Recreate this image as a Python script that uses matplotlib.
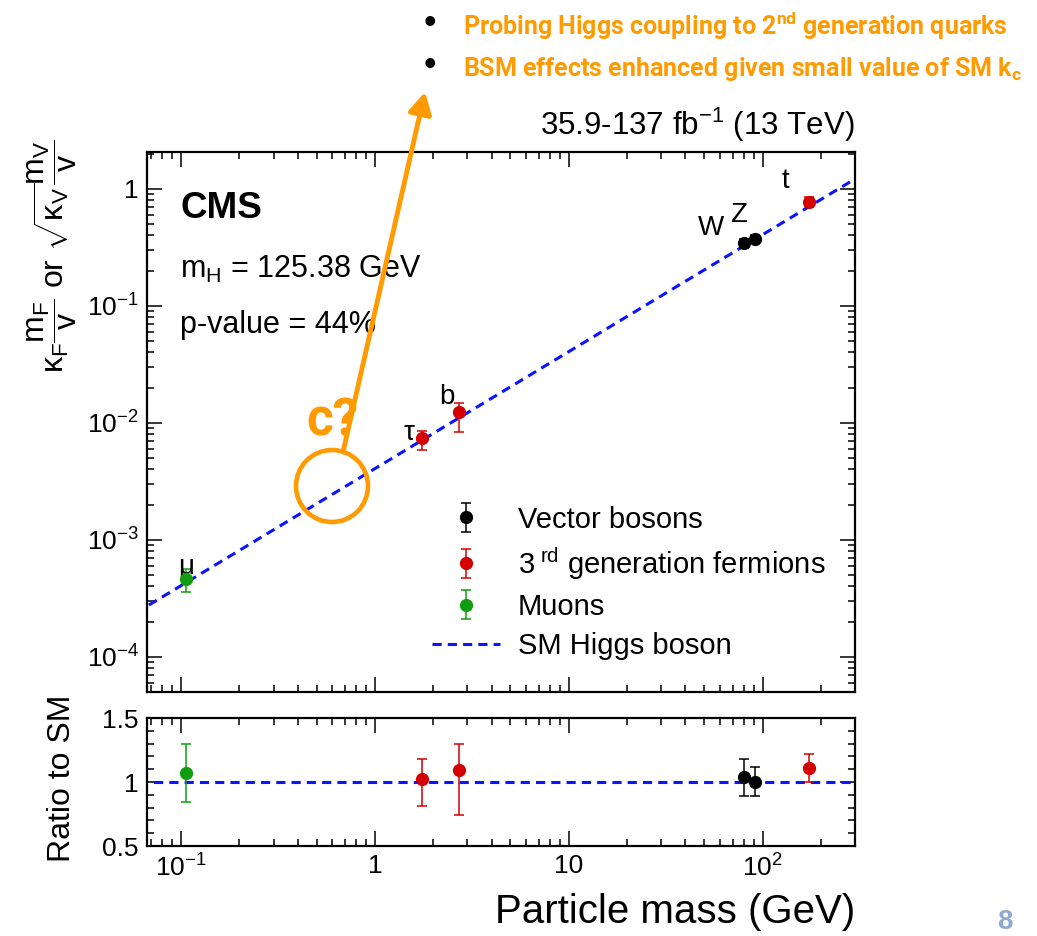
import numpy as np
import matplotlib
matplotlib.use('Agg')
from matplotlib import pyplot as plt
from matplotlib.lines import Line2D
from matplotlib.patches import Ellipse, FancyArrowPatch
from matplotlib.ticker import LogLocator, MultipleLocator, NullFormatter

plt.rcParams['font.family'] = ['Liberation Sans', 'DejaVu Sans']
plt.rcParams['mathtext.fontset'] = 'custom'
plt.rcParams['mathtext.rm'] = 'Liberation Sans'
plt.rcParams['mathtext.it'] = 'Liberation Sans:italic'
plt.rcParams['mathtext.bf'] = 'Liberation Sans:bold'
plt.rcParams['mathtext.default'] = 'regular'

# values
vb_names = ['W', 'Z']
vb_mass = [80.4, 91.2]
vb_y = [0.345, 0.375]
vb_lo = [0.035, 0.03]
vb_hi = [0.03, 0.028]
vb_ratio = [1.04, 1.0]
vb_ratio_lo = [0.15, 0.11]
vb_ratio_hi = [0.14, 0.12]

f3_names = ['τ', 'b', 't']
f3_mass = [1.75, 2.7, 172.7]
f3_y = [7.4e-3, 1.23e-2, 0.78]
f3_lo = [1.5e-3, 3.9e-3, 0.08]
f3_hi = [1.15e-3, 2.4e-3, 0.08]
f3_ratio = [1.02, 1.09, 1.11]
f3_ratio_lo = [0.21, 0.35, 0.11]
f3_ratio_hi = [0.16, 0.21, 0.11]

mu_names = ['μ']
mu_mass = [0.1057]
mu_y = [4.6e-4]
mu_lo = [1.0e-4]
mu_hi = [1.0e-4]
mu_ratio = [1.07]
mu_ratio_lo = [0.23]
mu_ratio_hi = [0.23]

vev = 246.22
sm_x = np.array([0.05, 400.0])
sm_y = sm_x / vev

xticks = [0.1, 1, 10, 100]
xticklabels = ['$10^{-1}$', '1', '10', '$10^{2}$']
yticks = [1e-4, 1e-3, 1e-2, 1e-1, 1]
yticklabels = ['$10^{-4}$', '$10^{-3}$', '$10^{-2}$', '$10^{-1}$', '1']
rticks = [0.5, 1, 1.5]
rticklabels = ['0.5', '1', '1.5']

RED = '#d40000'
GREEN = '#109e10'
BLUE = '#0a14ff'
ORANGE = '#ff9a00'

W, H = 1037, 936
fig = plt.figure(figsize=(W / 100, H / 100), dpi=100)

def fx(px):
    return px / W

def fy(py):
    return 1 - py / H

ax = fig.add_axes([fx(147), fy(692), fx(855) - fx(147), fy(152) - fy(692)])
axr = fig.add_axes([fx(147), fy(846), fx(855) - fx(147), fy(718) - fy(846)], sharex=ax)

groups = [
    (vb_mass, vb_y, vb_lo, vb_hi, vb_ratio, vb_ratio_lo, vb_ratio_hi, 'black', 'Vector bosons'),
    (f3_mass, f3_y, f3_lo, f3_hi, f3_ratio, f3_ratio_lo, f3_ratio_hi, RED, '3$^{\\ rd}$ generation fermions'),
    (mu_mass, mu_y, mu_lo, mu_hi, mu_ratio, mu_ratio_lo, mu_ratio_hi, GREEN, 'Muons'),
]

handles = []
for m, y, lo, hi, r, rlo, rhi, c, lab in groups:
    h = ax.errorbar(m, y, yerr=[lo, hi], fmt='o', color=c, ms=8.5, elinewidth=1.1,
                    capsize=3.5, capthick=1.1, label=lab, zorder=3)
    handles.append(h)
    axr.errorbar(m, r, yerr=[rlo, rhi], fmt='o', color=c, ms=8.5, elinewidth=1.1,
                 capsize=3.5, capthick=1.1, zorder=3)

ax.plot(sm_x, sm_y, ls=(0, (3, 2)), color=BLUE, lw=2.2, zorder=2)
axr.plot(sm_x, [1, 1], ls=(0, (3, 2)), color=BLUE, lw=2.2, zorder=2)
handles.append(Line2D([], [], ls=(0, (3, 2)), color=BLUE, lw=2.2, label='SM Higgs boson'))

# particle labels
label_off = {'W': (-24, 11), 'Z': (-11.5, 17), 't': (-16.5, 14.5),
             'b': (-8.5, 11), 'τ': (-9.5, 3.5), 'μ': (0, 9)}
for names, m, y in [(vb_names, vb_mass, vb_y), (f3_names, f3_mass, f3_y), (mu_names, mu_mass, mu_y)]:
    for n, xm, ym in zip(names, m, y):
        ax.annotate(n, (xm, ym), xytext=label_off[n], textcoords='offset points',
                    ha='center', va='center', fontsize=20)

ax.set_xscale('log')
ax.set_yscale('log')
ax.set_xlim(0.0667, 300)
ax.set_ylim(5e-5, 2.07)
axr.set_ylim(0.5, 1.5)

ax.set_yticks(yticks, yticklabels)
ax.yaxis.set_minor_locator(LogLocator(base=10, subs=np.arange(2, 10), numticks=20))
ax.yaxis.set_minor_formatter(NullFormatter())
axr.set_xticks(xticks, xticklabels)
axr.xaxis.set_minor_locator(LogLocator(base=10, subs=np.arange(2, 10), numticks=20))
axr.xaxis.set_minor_formatter(NullFormatter())
axr.set_yticks(rticks, rticklabels)
axr.yaxis.set_minor_locator(MultipleLocator(0.1))
plt.setp(ax.get_xticklabels(), visible=False)

for a in (ax, axr):
    a.tick_params(which='both', direction='in', top=True, right=True, width=1.1, labelsize=19)
    a.tick_params(which='major', length=10.5, pad=6)
    a.tick_params(which='minor', length=5)
    for s in a.spines.values():
        s.set_linewidth(1.6)

leg = ax.legend(handles=handles, loc='upper left', bbox_to_anchor=(fx(417), fy(491)),
                bbox_transform=fig.transFigure, frameon=False, fontsize=21,
                handlelength=2.35, handletextpad=0.6, labelspacing=0.39, borderpad=0)

fig.text(fx(855), fy(135), '35.9-137 fb$^{-1}$ (13 TeV)', ha='right', va='baseline', fontsize=22.5)
fig.text(fx(180), fy(218), 'CMS', ha='left', va='baseline', fontsize=26.5, fontweight='bold')
fig.text(fx(180), fy(278), 'm$_{H}$ = 125.38 GeV', ha='left', va='baseline', fontsize=22)
fig.text(fx(180), fy(333), 'p-value = 44%', ha='left', va='baseline', fontsize=22)

fig.text(fx(52), fy(256), r'$\kappa_{F}\dfrac{m_{F}}{v}$ or $\sqrt{\kappa_{V}}\dfrac{m_{V}}{v}$',
         rotation=90, ha='center', va='center', fontsize=23)
fig.text(fx(62), fy(778), 'Ratio to SM', rotation=90, ha='center', va='center', fontsize=23)
fig.text(fx(855), fy(923), 'Particle mass (GeV)', ha='right', va='baseline', fontsize=29)

# slide annotations
bold_font = ['Roboto', 'DejaVu Sans']
fig.text(fx(430), fy(24), '•', ha='center', va='center', fontsize=26, color='black')
fig.text(fx(430), fy(65), '•', ha='center', va='center', fontsize=26, color='black')
fig.text(fx(463), fy(35), 'Probing Higgs coupling to 2$^{nd}$ generation quarks',
         ha='left', va='baseline', fontsize=18, fontweight='bold', color=ORANGE, family=bold_font)
fig.text(fx(463), fy(76), 'BSM effects enhanced given small value of SM k$_{c}$',
         ha='left', va='baseline', fontsize=18, fontweight='bold', color=ORANGE, family=bold_font)
fig.text(fx(333), fy(421), 'c?', ha='center', va='center', fontsize=37, fontweight='bold',
         color=ORANGE, family=bold_font)

fig.add_artist(Ellipse((fx(332), fy(486)), 72 / W, 72 / H, transform=fig.transFigure,
                       fill=False, ec=ORANGE, lw=3.3, zorder=5))
fig.add_artist(FancyArrowPatch((fx(343), fy(452)), (fx(425), fy(92)), transform=fig.transFigure,
                               arrowstyle='-|>,head_length=0.4,head_width=0.22', mutation_scale=32,
                               color=ORANGE, lw=3.5, zorder=5, shrinkA=0, shrinkB=0))

fig.text(fx(1005), fy(929), '8', ha='center', va='baseline', fontsize=20, fontweight='bold',
         color='#8faad0')

fig.savefig('out.png', dpi=100)
